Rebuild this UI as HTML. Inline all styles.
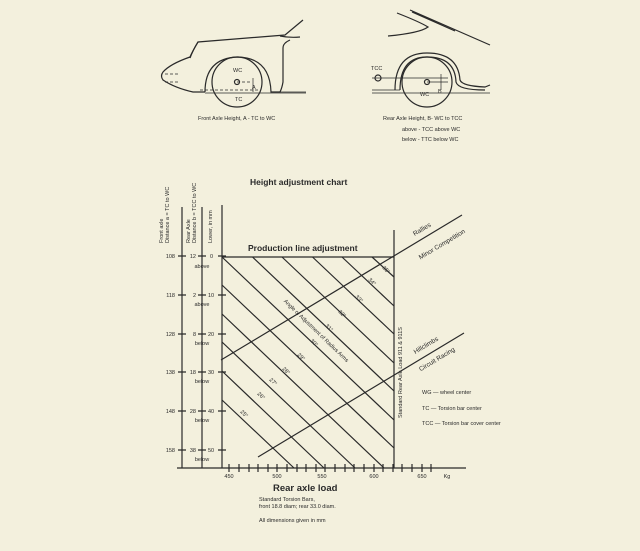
<!DOCTYPE html>
<html><head><meta charset="utf-8"><style>
html,body{margin:0;padding:0;background:#f3f0dd;width:640px;height:551px;overflow:hidden;}
svg{display:block;}
text{font-family:"Liberation Sans",sans-serif;fill:#2a2a2a;}
</style></head><body>
<svg width="640" height="551" viewBox="0 0 640 551" overflow="hidden" xmlns="http://www.w3.org/2000/svg">
<rect width="640" height="551" fill="#f3f0dd"/>
<g fill="none" stroke="#2a2a2a" stroke-width="1.2">
<path d="M303,20 L285,35 L198,42 Q192,52 190,57 Q170,64 163,72 Q160,76 163,80 Q175,88 193,92 L205,92"/>
<path d="M198,42 Q193,50 190,58" />
<path d="M280,36 Q290,38 300,37"/>
<path d="M205,92 Q205,58 238,57 Q270,58 271,92 L280,92 Q282,88 283,82 L283,48 Q283,43 290,40"/>
<path d="M271,92 L306,92 M205,93 L306,93" stroke-width="0.8"/>
<circle cx="237" cy="82" r="25"/>
<circle cx="237" cy="82" r="2.5"/>
<path d="M237,82 L252,82 M200,90 L260,90 M165,74 L180,74 M165,82 L180,82" stroke-dasharray="3,2" stroke-width="0.7"/>
<path d="M253,78 L253,92" stroke-width="0.7"/>
<path d="M397,13 Q420,22 428,27 Q420,33 388,36"/>
<path d="M410,10 L490,45 M412,12 L455,31"/>
<path d="M395,90 Q395,53 427,53 Q458,53 460,80 Q462,86 485,87 L490,85"/>
<path d="M400,90 Q400,57 427,57 Q455,57 456,82 Q458,90 485,90"/>
<circle cx="427" cy="82" r="25"/>
<circle cx="427" cy="82" r="2.5"/>
<circle cx="378" cy="78" r="3"/>
<path d="M372,78 L448,78 M427,82 L448,82 M372,90 L400,90 M372,93 L490,93" stroke-width="0.8"/>
<path d="M441,74 L441,90" stroke-width="0.7"/>
<path d="M182,207 V468 M202,207 V468 M222,205 V468 M394,230 V468 M177,468 H466"/>
<path d="M222,257 H394"/>
<path d="M178,256 H186 M178,295 H186 M178,334 H186 M178,372 H186 M178,411 H186 M178,450 H186"/>
<path d="M198,256 H206 M198,295 H206 M198,334 H206 M198,372 H206 M198,411 H206 M198,450 H206"/>
<path d="M218,256 H226 M218,295 H226 M218,334 H226 M218,372 H226 M218,411 H226 M218,450 H226"/>
<path d="M229,464V472 M239,464V472 M249,464V472 M258,464V472 M268,464V472 M277,464V472 M287,464V472 M297,464V472 M306,464V472 M316,464V472 M325,464V472 M335,464V472 M345,464V472 M354,464V472 M364,464V472 M374,464V472 M383,464V472 M393,464V472 M402,464V472 M412,464V472 M422,464V472 M431,464V472"/>
<path d="M222,400 L294,468 M222,371 L324,468 M222,342 L355,468 M222,314 L384,468 M222,285 L394,448 M222,257 L394,420 M252.5,257 L394,391 M282,257 L394,363 M312.5,257 L394,334 M342,257 L394,306 M372,257 L394,277"/>
<path d="M221,360 L462,215 M258,457 L464,333"/>
</g>
<g font-size="5.5">
<text x="175" y="258" text-anchor="end">108</text>
<text x="175" y="297" text-anchor="end">118</text>
<text x="175" y="336" text-anchor="end">128</text>
<text x="175" y="374" text-anchor="end">138</text>
<text x="175" y="413" text-anchor="end">148</text>
<text x="175" y="452" text-anchor="end">158</text>
<text x="196" y="258" text-anchor="end">12</text>
<text x="196" y="297" text-anchor="end">2</text>
<text x="196" y="336" text-anchor="end">8</text>
<text x="196" y="374" text-anchor="end">18</text>
<text x="196" y="413" text-anchor="end">28</text>
<text x="196" y="452" text-anchor="end">38</text>
<g text-anchor="middle"><text x="202" y="268">above</text><text x="202" y="306">above</text><text x="202" y="345">below</text><text x="202" y="383">below</text><text x="202" y="422">below</text><text x="202" y="461">below</text></g>
<text x="210" y="258">0</text><text x="208" y="297">10</text><text x="208" y="336">20</text><text x="208" y="374">30</text><text x="208" y="413">40</text><text x="208" y="452">50</text>
<g text-anchor="middle"><text x="229" y="478">450</text><text x="277" y="478">500</text><text x="322" y="478">550</text><text x="374" y="478">600</text><text x="422" y="478">650</text><text x="447" y="478">Kg</text></g>
<text transform="translate(163,243) rotate(-90)">Front axle</text>
<text transform="translate(169,243) rotate(-90)">Distance a = TC to WC</text>
<text transform="translate(190,243) rotate(-90)">Rear Axle</text>
<text transform="translate(196,243) rotate(-90)">Distance b = TCC to WC</text>
<text transform="translate(212,243) rotate(-90)">Lower, in mm</text>
<text transform="translate(402,418) rotate(-90)">Standard Rear Axle Load 911 &amp; 911S</text>
<text transform="translate(315,332) rotate(44)" text-anchor="middle">Angle of Adjustment of Radius Arms</text>
<g text-anchor="middle">
<text transform="translate(243,415) rotate(45)">25°</text>
<text transform="translate(260,397) rotate(45)">26°</text>
<text transform="translate(272,383) rotate(45)">27°</text>
<text transform="translate(285,372) rotate(45)">28°</text>
<text transform="translate(300,358) rotate(45)">29°</text>
<text transform="translate(313,344) rotate(45)">30°</text>
<text transform="translate(328,329) rotate(45)">31°</text>
<text transform="translate(341,315) rotate(45)">32°</text>
<text transform="translate(358,300) rotate(45)">33°</text>
<text transform="translate(371,283) rotate(45)">34°</text>
<text transform="translate(385,271) rotate(45)">35°</text>
</g>
<g font-size="6.5" text-anchor="middle">
<text transform="translate(423,231) rotate(-31)">Rallies</text>
<text transform="translate(443,246) rotate(-31)">Minor Competition</text>
<text transform="translate(427,347) rotate(-31)">Hillclimbs</text>
<text transform="translate(438,361) rotate(-31)">Circuit Racing</text>
</g>
<text x="422" y="394">WG — wheel center</text>
<text x="422" y="410">TC — Torsion bar center</text>
<text x="422" y="425">TCC — Torsion bar cover center</text>
<text x="259" y="501">Standard Torsion Bars,</text>
<text x="259" y="508">front 18.8 diam; rear 33.0 diam.</text>
<text x="259" y="522">All dimensions given in mm</text>
<text x="198" y="120">Front Axle Height, A - TC to WC</text>
<text x="383" y="120">Rear Axle Height, B- WC to TCC</text>
<text x="402" y="131">above - TCC above WC</text>
<text x="402" y="141">below - TTC below WC</text>
<text x="233" y="72">WC</text><text x="235" y="101">TC</text><text x="252" y="89">A</text>
<text x="371" y="70">TCC</text><text x="420" y="96">WC</text><text x="438" y="93">B</text>
</g>
<text x="250" y="185" font-size="8.5" font-weight="bold">Height adjustment chart</text>
<text x="248" y="251" font-size="8.5" font-weight="bold">Production line adjustment</text>
<text x="273" y="491" font-size="9.5" font-weight="bold">Rear axle load</text>
</svg>
</body></html>
